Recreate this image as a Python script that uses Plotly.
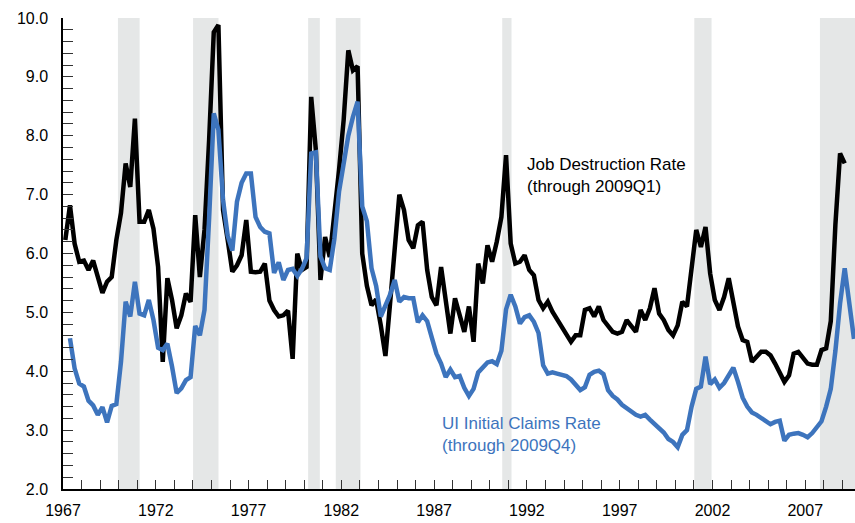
import plotly.graph_objects as go

# Quarterly job destruction rate (percent), 1967Q1 - 2009Q1
jd_start = (1967, 1)
job_destruction = [
    6.23, 6.82, 6.17, 5.86, 5.88, 5.72, 5.88, 5.60, 5.33, 5.52,
    5.60, 6.23, 6.69, 7.53, 7.13, 8.29, 6.54, 6.54, 6.74, 6.42,
    5.77, 4.16, 5.58, 5.21, 4.73, 4.95, 5.32, 5.18, 6.65, 5.60,
    6.40, 7.93, 9.76, 9.88, 6.74, 6.23, 5.69, 5.80, 5.97, 6.57,
    5.69, 5.68, 5.69, 5.83, 5.20, 5.04, 4.93, 4.95, 5.03, 4.21,
    6.00, 5.72, 5.77, 8.66, 7.76, 5.55, 6.28, 5.94, 6.62, 7.42,
    8.27, 9.45, 9.11, 9.18, 6.00, 5.45, 5.12, 5.22, 4.78, 4.26,
    5.15, 6.10, 7.00, 6.74, 6.23, 6.09, 6.48, 6.54, 5.72, 5.26,
    5.12, 5.77, 5.26, 4.64, 5.24, 4.93, 4.67, 5.10, 4.50, 5.83,
    5.49, 6.14, 5.86, 6.20, 6.62, 7.67, 6.17, 5.83, 5.86, 5.97,
    5.72, 5.63, 5.21, 5.07, 5.18, 5.01, 4.88, 4.76, 4.62, 4.50,
    4.61, 4.61, 5.04, 5.07, 4.93, 5.10, 4.87, 4.78, 4.67, 4.64,
    4.67, 4.87, 4.78, 4.67, 5.04, 4.87, 5.07, 5.41, 4.98, 4.87,
    4.70, 4.61, 4.78, 5.18, 5.10, 5.77, 6.40, 6.11, 6.45, 5.66,
    5.21, 5.04, 5.26, 5.58, 5.21, 4.76, 4.53, 4.50, 4.16, 4.25,
    4.33, 4.33, 4.27, 4.13, 3.98, 3.82, 3.93, 4.30, 4.33, 4.22,
    4.13, 4.11, 4.11, 4.36, 4.39, 4.85, 6.50, 7.70, 7.53,
]

# Quarterly UI initial claims rate (percent), from 1967Q2 (visible part)
ui_start = (1967, 2)
ui_claims = [
    4.56, 4.05, 3.79, 3.74, 3.50, 3.42, 3.26, 3.39, 3.13, 3.41,
    3.44, 4.16, 5.18, 4.93, 5.52, 4.98, 4.95, 5.21, 4.87, 4.40,
    4.36, 4.47, 4.08, 3.63, 3.71, 3.85, 3.90, 4.77, 4.61, 5.04,
    6.60, 8.38, 8.10, 6.91, 6.30, 6.05, 6.88, 7.20, 7.36, 7.36,
    6.62, 6.45, 6.37, 6.34, 5.67, 5.85, 5.55, 5.72, 5.74, 5.62,
    5.74, 5.92, 7.70, 7.72, 5.95, 5.75, 5.72, 6.25, 7.05, 7.55,
    8.00, 8.32, 8.58, 6.80, 6.55, 5.75, 5.45, 4.93, 5.10, 5.30,
    5.55, 5.18, 5.26, 5.24, 5.24, 4.83, 4.95, 4.85, 4.57, 4.30,
    4.13, 3.90, 4.03, 3.90, 3.92, 3.72, 3.58, 3.70, 3.98, 4.06,
    4.15, 4.17, 4.12, 4.35, 5.05, 5.30, 5.10, 4.81, 4.92, 4.95,
    4.84, 4.65, 4.10, 3.96, 3.98, 3.96, 3.94, 3.92, 3.86, 3.76,
    3.68, 3.73, 3.94, 3.99, 4.01, 3.95, 3.68, 3.58, 3.52, 3.43,
    3.37, 3.30, 3.26, 3.23, 3.26, 3.18, 3.11, 3.04, 2.96, 2.85,
    2.80, 2.71, 2.92, 3.00, 3.40, 3.70, 3.74, 4.25, 3.78, 3.86,
    3.72, 3.80, 3.92, 4.06, 3.82, 3.55, 3.40, 3.30, 3.26, 3.20,
    3.14, 3.10, 3.14, 3.16, 2.82, 2.92, 2.94, 2.95, 2.92, 2.88,
    2.95, 3.05, 3.15, 3.40, 3.70, 4.35, 5.15, 5.75, 5.15, 4.55,
]

# Shaded recession periods (decimal years)
recessions = [
    (1969.96, 1971.13),
    (1974.01, 1975.38),
    (1980.21, 1980.84),
    (1981.70, 1983.03),
    (1990.67, 1991.17),
    (2001.02, 2001.95),
    (2007.79, 2010.50),
]


def quarter_positions(start, n):
    # put each quarter at its midpoint on a decimal-year axis
    year, q = start
    base = year + (q - 1) / 4
    return [base + i / 4 + 0.125 for i in range(n)]


FONT = "Liberation Sans, Arial, Helvetica, sans-serif"
BLUE = "#3d74bd"

fig = go.Figure()

for start, end in recessions:
    fig.add_shape(type="rect", xref="x", yref="paper", x0=start, x1=end,
                  y0=0, y1=1, fillcolor="#e5e7e7", line_width=0, layer="below")

fig.add_trace(go.Scatter(
    x=quarter_positions(jd_start, len(job_destruction)), y=job_destruction,
    mode="lines", line=dict(color="black", width=4.5), hoverinfo="skip"))

fig.add_trace(go.Scatter(
    x=quarter_positions(ui_start, len(ui_claims)), y=ui_claims,
    mode="lines", line=dict(color=BLUE, width=4.5), hoverinfo="skip"))

fig.add_annotation(x=1991.88, y=7.32, xanchor="left", yanchor="middle",
                   align="left", showarrow=False,
                   text="Job Destruction Rate<br>(through 2009Q1)",
                   font=dict(family=FONT, size=17, color="black"))
fig.add_annotation(x=1987.30, y=2.93, xanchor="left", yanchor="middle",
                   align="left", showarrow=False,
                   text="UI Initial Claims Rate<br>(through 2009Q4)",
                   font=dict(family=FONT, size=17, color=BLUE))

fig.update_layout(
    width=855, height=523,
    margin=dict(l=63, r=0, t=18, b=34),
    paper_bgcolor="white", plot_bgcolor="white",
    showlegend=False,
    font=dict(family=FONT, size=16, color="black"),
)

fig.update_xaxes(
    range=[1967, 2009.68], showgrid=False, zeroline=False,
    showline=True, linecolor="black", linewidth=1.5,
    tick0=1967, dtick=5, tickformat="d",
    ticks="inside", ticklen=9, tickcolor="#333", tickwidth=1,
    ticklabelstandoff=6,
    minor=dict(dtick=1, ticks="inside", ticklen=9, tickcolor="#333",
               tickwidth=1, showgrid=False),
)
fig.update_yaxes(
    range=[2, 10], showgrid=False, zeroline=False,
    showline=True, linecolor="black", linewidth=1.5,
    tick0=2, dtick=1, tickformat=".1f",
    ticks="inside", ticklen=10, tickcolor="#333", tickwidth=1,
    ticklabelstandoff=10,
    minor=dict(dtick=0.2, ticks="inside", ticklen=10, tickcolor="#333",
               tickwidth=1, showgrid=False),
)

# drop the default page margin so the figure fills the window exactly
fig.write_html(
    "out.html",
    config={"displayModeBar": False},
    post_script="document.body.style.margin='0';"
                "document.body.style.overflow='hidden';",
)
